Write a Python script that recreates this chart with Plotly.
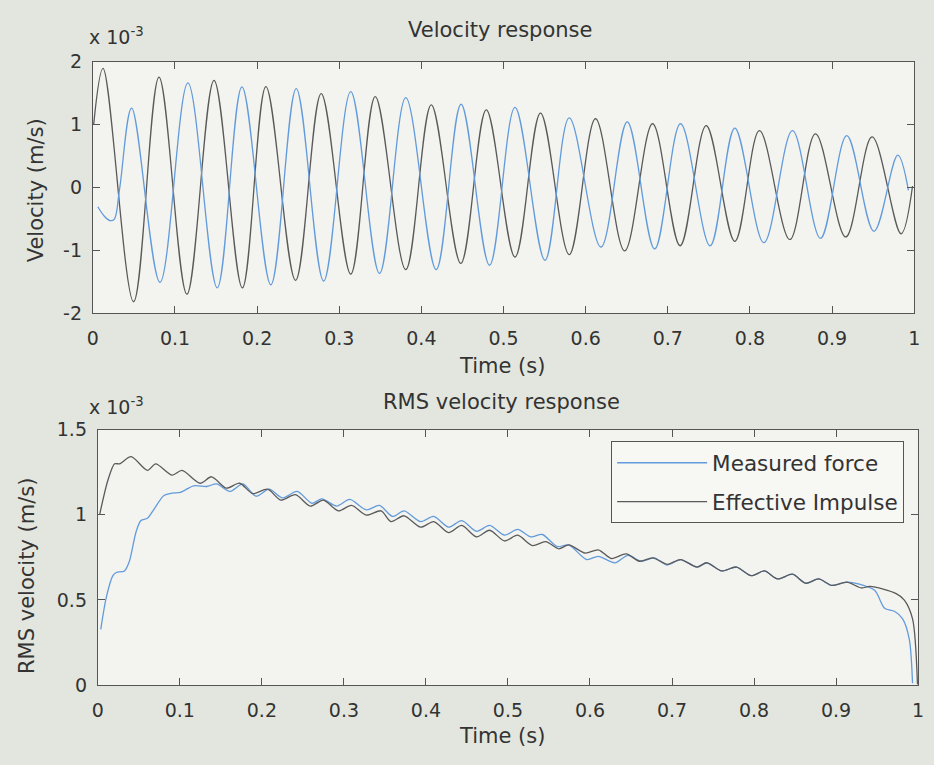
import plotly.graph_objects as go

W, H = 934, 765

# ---------------- data ----------------
time_ticks = [0, 0.1, 0.2, 0.3, 0.4, 0.5, 0.6, 0.7, 0.8, 0.9, 1]
time_tick_labels = ["0", "0.1", "0.2", "0.3", "0.4", "0.5", "0.6", "0.7", "0.8", "0.9", "1"]
vel_ticks = [-2, -1, 0, 1, 2]
vel_tick_labels = ["-2", "-1", "0", "1", "2"]
rms_ticks = [0, 0.5, 1, 1.5]
rms_tick_labels = ["0", "0.5", "1", "1.5"]

# Velocity response (units of 1e-3 m/s), extrema
vel_impulse_t = [0.001, 0.0124, 0.0496, 0.0805, 0.1145, 0.1475, 0.182, 0.2107, 0.2468, 0.278,
                 0.314, 0.3438, 0.381, 0.412, 0.448, 0.479, 0.514, 0.545, 0.580, 0.612,
                 0.6475, 0.6815, 0.715, 0.7468, 0.7816, 0.8116, 0.8486, 0.8798, 0.9167, 0.9487,
                 0.984, 0.998]
vel_impulse_v = [1.00, 1.89, -1.82, 1.75, -1.70, 1.70, -1.60, 1.60, -1.48, 1.49,
                 -1.38, 1.44, -1.31, 1.31, -1.21, 1.23, -1.11, 1.18, -1.07, 1.09,
                 -1.01, 1.01, -0.93, 0.98, -0.86, 0.90, -0.83, 0.85, -0.79, 0.80,
                 -0.74, 0.02]

vel_measured_t = [0.006, 0.014, 0.021, 0.026, 0.0325, 0.0472, 0.0817, 0.1157, 0.1514, 0.1815,
                  0.2167, 0.2476, 0.281, 0.314, 0.349, 0.381, 0.418, 0.4483, 0.483, 0.514,
                  0.5505, 0.580, 0.6186, 0.6506, 0.684, 0.7155, 0.7516, 0.7816, 0.817, 0.8518,
                  0.886, 0.918, 0.951, 0.980, 0.993]
vel_measured_v = [-0.31, -0.46, -0.53, -0.51, -0.03, 1.26, -1.51, 1.66, -1.60, 1.595,
                  -1.55, 1.57, -1.49, 1.52, -1.37, 1.425, -1.31, 1.32, -1.24, 1.27,
                  -1.16, 1.105, -0.95, 1.04, -0.98, 1.01, -0.93, 0.94, -0.88, 0.90,
                  -0.81, 0.82, -0.70, 0.51, -0.05]

# RMS velocity response (units of 1e-3 m/s)
rms_measured_t = [0.0036, 0.0105, 0.0184, 0.0225, 0.0325, 0.0385, 0.0466, 0.0526, 0.0605, 0.0686,
                  0.0806, 0.0906, 0.1007, 0.1167, 0.1327, 0.1448, 0.1609, 0.1769, 0.1929, 0.209,
                  0.225, 0.2431, 0.2611, 0.2732, 0.2912, 0.3072, 0.3273, 0.3433, 0.3594, 0.3734,
                  0.3935, 0.4095, 0.4276, 0.4437, 0.4617, 0.4777, 0.4958, 0.5118, 0.5279, 0.5419,
                  0.56, 0.574, 0.596, 0.6101, 0.6302, 0.6462, 0.6622, 0.6783, 0.6943, 0.7104,
                  0.7304, 0.7425, 0.7605, 0.7786, 0.7966, 0.8126, 0.8288, 0.8468, 0.8628, 0.8788,
                  0.8949, 0.913, 0.927, 0.947, 0.9591, 0.9711, 0.9811, 0.9892, 0.9932]
rms_measured_v = [0.327, 0.518, 0.642, 0.661, 0.670, 0.727, 0.899, 0.966, 0.979, 1.033,
                  1.113, 1.127, 1.131, 1.170, 1.166, 1.181, 1.137, 1.181, 1.109, 1.150,
                  1.099, 1.137, 1.067, 1.093, 1.051, 1.090, 1.029, 1.055, 0.990, 1.023,
                  0.960, 0.990, 0.927, 0.966, 0.903, 0.937, 0.880, 0.914, 0.870, 0.884,
                  0.813, 0.823, 0.737, 0.756, 0.718, 0.762, 0.727, 0.747, 0.705, 0.737,
                  0.693, 0.718, 0.670, 0.693, 0.642, 0.670, 0.623, 0.651, 0.598, 0.623,
                  0.585, 0.604, 0.594, 0.556, 0.451, 0.433, 0.389, 0.270, 0.010]

rms_impulse_t = [0.0024, 0.0124, 0.0205, 0.0265, 0.0406, 0.0605, 0.0706, 0.0906, 0.1026, 0.1248,
                 0.1387, 0.1568, 0.1729, 0.1889, 0.207, 0.223, 0.241, 0.259, 0.275, 0.2933,
                 0.3093, 0.3273, 0.3454, 0.3574, 0.3734, 0.3935, 0.4095, 0.4276, 0.4437, 0.4617,
                 0.4777, 0.4958, 0.5118, 0.5298, 0.546, 0.562, 0.574, 0.5941, 0.6101, 0.6261,
                 0.6442, 0.6603, 0.6763, 0.6943, 0.7104, 0.7304, 0.7425, 0.7605, 0.7786, 0.7966,
                 0.8126, 0.8288, 0.8468, 0.8628, 0.8788, 0.8949, 0.913, 0.931, 0.9413, 0.9732,
                 0.9832, 0.9932, 0.9992]
rms_impulse_v = [1.004, 1.204, 1.299, 1.299, 1.341, 1.261, 1.299, 1.233, 1.261, 1.185,
                 1.223, 1.156, 1.185, 1.124, 1.150, 1.086, 1.118, 1.051, 1.086, 1.023,
                 1.055, 0.998, 1.023, 0.960, 0.994, 0.927, 0.960, 0.895, 0.937, 0.870,
                 0.909, 0.846, 0.880, 0.819, 0.842, 0.800, 0.823, 0.775, 0.794, 0.743,
                 0.770, 0.727, 0.747, 0.709, 0.737, 0.693, 0.718, 0.670, 0.693, 0.642,
                 0.670, 0.623, 0.651, 0.598, 0.623, 0.585, 0.604, 0.570, 0.579, 0.537,
                 0.499, 0.389, 0.004]

series_names = ["Measured force", "Effective Impulse"]

# ---------------- style ----------------
FONT = "DejaVu Sans"
TXT = "#333333"
AXC = "#555555"
BLUE = "#629bdb"
DARK = "#5a5a5a"
PAPER = "#e3e6de"
PLOTBG = "#f3f3f0"

def fx(px):
    return px / W

def fy(py):
    return 1 - py / H

fig = go.Figure()

fig.add_trace(go.Scatter(x=vel_impulse_t, y=vel_impulse_v, mode="lines",
                         line=dict(color=DARK, width=1.3, shape="spline", smoothing=1),
                         xaxis="x", yaxis="y", showlegend=False))
fig.add_trace(go.Scatter(x=vel_measured_t, y=vel_measured_v, mode="lines",
                         line=dict(color=BLUE, width=1.3, shape="spline", smoothing=1),
                         xaxis="x", yaxis="y", showlegend=False))

fig.add_trace(go.Scatter(x=rms_measured_t, y=rms_measured_v, mode="lines", name=series_names[0],
                         line=dict(color=BLUE, width=1.3, shape="spline", smoothing=0.8),
                         xaxis="x2", yaxis="y2", legendgroup="a"))
fig.add_trace(go.Scatter(x=rms_impulse_t, y=rms_impulse_v, mode="lines", name=series_names[1],
                         line=dict(color=DARK, width=1.3, shape="spline", smoothing=0.8),
                         xaxis="x2", yaxis="y2", legendgroup="b"))

axis_common = dict(showline=True, linecolor=AXC, linewidth=1, mirror="ticks",
                   ticks="inside", ticklen=7, tickcolor=AXC, showgrid=False, zeroline=False,
                   tickfont=dict(family=FONT, size=19, color=TXT))

fig.update_layout(
    width=W, height=H,
    margin=dict(l=0, r=0, t=0, b=0),
    paper_bgcolor=PAPER, plot_bgcolor=PLOTBG,
    font=dict(family=FONT, color=TXT),
    xaxis=dict(domain=[fx(88), fx(920)], range=[0, 1], anchor="y",
               tickvals=time_ticks, ticktext=time_tick_labels, ticklabelstandoff=8, **axis_common),
    yaxis=dict(domain=[fy(311), fy(52)], range=[-2, 2], anchor="x",
               tickvals=vel_ticks, ticktext=vel_tick_labels, ticklabelstandoff=6, **axis_common),
    xaxis2=dict(domain=[fx(93), fx(924)], range=[0, 1], anchor="y2",
                tickvals=time_ticks, ticktext=time_tick_labels, ticklabelstandoff=8, **axis_common),
    yaxis2=dict(domain=[fy(694), fy(431)], range=[0, 1.5], anchor="x2",
                tickvals=rms_ticks, ticktext=rms_tick_labels, ticklabelstandoff=6, **axis_common),
    legend=dict(x=fx(613), y=fy(443), xanchor="left", yanchor="top",
                bgcolor="#f7f7f4", bordercolor=AXC, borderwidth=1,
                font=dict(family=FONT, size=21.5, color=TXT),
                itemwidth=90, tracegroupgap=8),
    showlegend=True,
)

ann = dict(showarrow=False, xref="paper", yref="paper", font=dict(family=FONT, size=21, color=TXT))
fig.add_annotation(text="Velocity response", x=fx(500), y=fy(20), xanchor="center", yanchor="middle", **ann)
fig.add_annotation(text="RMS velocity response", x=fx(502), y=fy(403), xanchor="center", yanchor="middle", **ann)
fig.add_annotation(text="Time (s)", x=fx(502), y=fy(366), xanchor="center", yanchor="middle", **ann)
fig.add_annotation(text="Time (s)", x=fx(502), y=fy(746), xanchor="center", yanchor="middle", **ann)
fig.add_annotation(text="Velocity (m/s)", x=fx(30), y=fy(185), xanchor="center", yanchor="middle",
                   textangle=-90, **ann)
fig.add_annotation(text="RMS velocity (m/s)", x=fx(22), y=fy(582), xanchor="center", yanchor="middle",
                   textangle=-90, **ann)
exp_font = dict(family=FONT, size=19, color=TXT)
fig.add_annotation(text="x 10<sup>-3</sup>", x=fx(82), y=fy(26), xanchor="left", yanchor="middle",
                   showarrow=False, xref="paper", yref="paper", font=exp_font)
fig.add_annotation(text="x 10<sup>-3</sup>", x=fx(82), y=fy(407), xanchor="left", yanchor="middle",
                   showarrow=False, xref="paper", yref="paper", font=exp_font)

fig.write_html("out.html")
